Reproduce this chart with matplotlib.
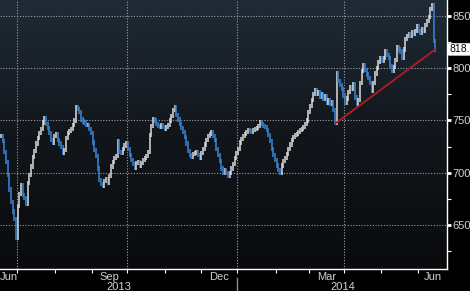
import numpy as np
import pandas as pd
import matplotlib

matplotlib.use("Agg")
import matplotlib.pyplot as plt
import matplotlib.transforms as mtransforms
from matplotlib.colors import LinearSegmentedColormap

# daily closes, one per business day starting 2013-06-17
closes = [
    735, 730, 720, 710, 698, 684, 672, 663, 656, 638,
    668, 680, 688, 679, 676, 670, 690, 698, 706, 715,
    721, 728, 733, 738, 742, 748, 752, 747, 743, 738,
    731, 729, 735, 737, 731, 728, 725, 719, 722, 733,
    738, 740, 742, 746, 750, 763, 761, 758, 751, 749,
    748, 746, 746, 742, 738, 729, 722, 716, 704, 693,
    689, 687, 692, 694, 690, 697, 706, 710, 714, 716,
    730, 720, 719, 723, 726, 728, 723, 717, 712, 708,
    705, 709, 710, 707, 709, 712, 714, 716, 720, 736,
    745, 751, 750, 747, 745, 744, 746, 744, 742, 744,
    746, 750, 754, 760, 763, 755, 751, 747, 743, 739,
    734, 728, 721, 717, 715, 718, 719, 720, 717, 714,
    719, 723, 727, 731, 735, 737, 739, 735, 731, 723,
    717, 711, 704, 700, 703, 700, 697, 700, 704, 708,
    714, 719, 723, 729, 732, 735, 737, 739, 741, 740,
    739, 741, 742, 743, 745, 748, 747, 745, 744, 741,
    736, 730, 723, 717, 712, 707, 703, 700, 707, 711,
    714, 718, 723, 727, 731, 734, 736, 737, 739, 741,
    742, 744, 747, 750, 758, 764, 770, 775, 779, 775,
    777, 773, 775, 771, 773, 767, 770, 766, 768, 760,
    748, 795, 788, 784, 780, 774, 767, 771, 777, 782,
    780, 785, 772, 766, 770, 786, 797, 803, 798, 794,
    791, 786, 778, 786, 795, 800, 806, 810, 807, 810,
    816, 813, 810, 802, 797, 801, 808, 820, 818, 816,
    810, 818, 828, 831, 833, 831, 835, 833, 836, 840,
    836, 834, 837, 836, 841, 845, 849, 857, 860, 826,
    818,
]
start_date = "2013-06-17"
axis_end = "2014-06-30"

trend_dates = ["2014-03-24", "2014-06-16"]
trend_values = [747, 818]
last_label = "818."

y_major = [650, 700, 750, 800, 850]
y_minor = [625, 675, 725, 775, 825]
quarter_starts = ["2013-07-01", "2013-10-01", "2014-01-01", "2014-04-01"]
month_labels = [("2013-06", "Jun"), ("2013-09", "Sep"), ("2013-12", "Dec"),
                ("2014-03", "Mar"), ("2014-06", "Jun")]
year_labels = ["2013", "2014"]

UP = "#dcdcdc"
DOWN = "#3a86d8"
TXT = "#d2d2d2"
FONT = ["Liberation Sans Narrow", "Liberation Sans", "DejaVu Sans"]
plt.rcParams["font.family"] = FONT

cal = pd.bdate_range(start_date, axis_end)
x = np.arange(len(closes))
c = np.array(closes, dtype=float)
opens = np.r_[c[0], c[:-1]]
colors = [UP if cl >= op else DOWN for op, cl in zip(opens, c)]

x_lo, x_hi = -0.5, 267

fig = plt.figure(figsize=(4.7, 2.91), dpi=100, facecolor="black")
ax = fig.add_axes([0, 22 / 291, 447 / 470, 269 / 291])
ax.set_facecolor("black")

# background gradient
cmap = LinearSegmentedColormap.from_list("bg", ["#090a0c", "#12161b", "#1f2b36"])
grad = np.linspace(0, 1, 256).reshape(-1, 1)
ax.imshow(grad, aspect="auto", cmap=cmap, origin="lower", extent=[0, 1, 0, 1],
          transform=ax.transAxes, zorder=0)

# grid
for q in quarter_starts:
    qx = cal.get_loc(pd.Timestamp(q)) - 0.5
    ax.axvline(qx, color="#9aa0a6", lw=0.8, ls=(0, (1, 1.5)), zorder=1)
for yv in y_major:
    ax.axhline(yv, color="#9aa0a6", lw=0.8, ls=(0, (1, 1.5)), zorder=1)

# bars (body spans previous close -> close, padded a little like the wicks)
ax.vlines(x, np.minimum(opens, c) - 2, np.maximum(opens, c) + 2, colors=colors,
          lw=1.1, zorder=3)

# trend line
tx = cal.get_indexer(pd.to_datetime(trend_dates))
ax.plot(tx, trend_values, color="#a81c2a", lw=1.4, zorder=4)

ax.set_xlim(x_lo, x_hi)
ax.set_ylim(607.9, 865.3)

for s in ["left", "top"]:
    ax.spines[s].set_visible(False)
for s in ["right", "bottom"]:
    ax.spines[s].set_color("white")
    ax.spines[s].set_linewidth(1.0)

ax.yaxis.tick_right()
ax.set_yticks(y_major)
ax.set_yticks(y_minor, minor=True)
ax.set_yticklabels([str(v) for v in y_major])
ax.tick_params(axis="y", which="major", direction="out", length=3, width=2,
               color="white", labelcolor=TXT, labelsize=8, pad=1)
ax.tick_params(axis="y", which="minor", direction="out", length=3, width=0.8,
               color="white")

# month ticks on the x axis
month_starts = cal.to_series().groupby(cal.to_period("M")).first()
mt = [cal.get_loc(d) - 0.5 for d in month_starts if cal.get_loc(d) > 0]
ax.set_xticks(mt)
ax.set_xticklabels([])
ax.tick_params(axis="x", which="major", direction="out", length=3, width=0.8,
               color="white")

trans = mtransforms.blended_transform_factory(ax.transData, fig.transFigure)
for key, lab in month_labels:
    idx = [i for i, d in enumerate(cal) if d.strftime("%Y-%m") == key and x_lo <= i <= x_hi]
    ax.text(np.mean(idx), 1 - 277 / 291, lab, transform=trans, ha="center",
            va="center", color=TXT, fontsize=8)
for yr in year_labels:
    idx = [i for i, d in enumerate(cal) if str(d.year) == yr and x_lo <= i <= x_hi]
    ax.text(np.mean(idx), 1 - 287 / 291, yr, transform=trans, ha="center",
            va="center", color=TXT, fontsize=8)
sep = cal.get_loc(pd.Timestamp("2014-01-01")) - 0.5
ax.plot([sep, sep], [1 - 278 / 291, 0], transform=trans, color="#8a8a8a",
        lw=1.0, clip_on=False)

# last price tag
ax.annotate(last_label, xy=(1, closes[-1]), xycoords=("axes fraction", "data"),
            xytext=(1.5, 0), textcoords="offset points", va="center", ha="left",
            fontsize=7.5, color="black",
            bbox=dict(boxstyle="round,pad=0.12", fc="white", ec="none"),
            annotation_clip=False)

fig.savefig("out.png", dpi=100, facecolor="black")
